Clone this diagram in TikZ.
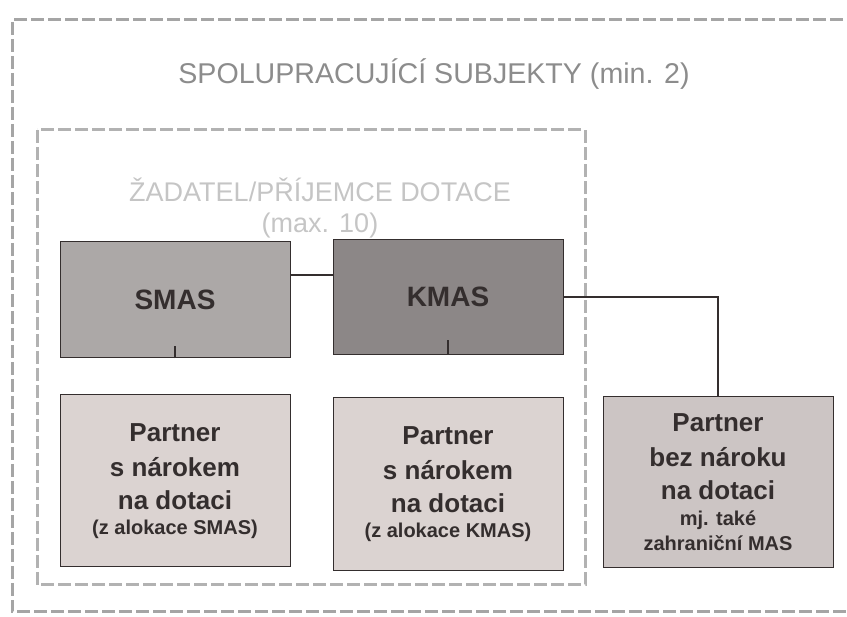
\documentclass[tikz,border=0pt]{standalone}
\usepackage{fontspec}
\setmainfont{Liberation Sans}
\definecolor{frame}{RGB}{165,165,165}
\definecolor{smasgray}{RGB}{172,168,167}
\definecolor{kmasgray}{RGB}{140,135,135}
\definecolor{partnerlight}{RGB}{219,211,209}
\definecolor{partnerdark}{RGB}{204,197,196}
\definecolor{ink}{RGB}{52,46,46}
\newcommand{\sm}[1]{{\fontsize{20}{23}\selectfont #1}}

\begin{document}
\begin{tikzpicture}[x=1pt,y=-1pt,
    dashframe/.style={draw=frame, line width=3pt, dash pattern=on 13pt off 4pt},
    box/.style={draw=ink, line width=1pt, minimum width=230pt, text=ink,
      font=\fontsize{26}{33}\selectfont\bfseries, align=center, inner sep=0pt},
    wire/.style={draw=ink, line width=1.3pt}]
        \useasboundingbox (0,0) rectangle (847,617);
        \draw[dashframe] (860,20) -- (12,20) -- (12,612) -- (860,612);
        \draw[dashframe, draw=frame!85!white] (37,130) rectangle (585,585);

        \node[text=frame!85!black, font=\fontsize{28.6}{32}\selectfont] (title) at (434,74)
        {SPOLUPRACUJÍCÍ SUBJEKTY (min. 2)};
        \node[text=frame!65!white, align=center, font=\fontsize{27}{31}\selectfont] (applicant) at (320,208)
        {ŽADATEL/PŘÍJEMCE DOTACE\\(max. 10)};

        \node[box, fill=smasgray, minimum height=116pt, font=\fontsize{28}{32}\selectfont\bfseries] (s) at (175,300) {SMAS};
        \node[box, fill=kmasgray, minimum height=115pt, font=\fontsize{28}{32}\selectfont\bfseries] (k) at (448,297) {KMAS};

        \node[box, fill=partnerlight, minimum height=172pt] (ps) at (175,481)
        {Partner\\[2pt]s nárokem\\na dotaci\\[-8pt]\sm{(z alokace SMAS)}};
        \node[box, fill=partnerlight, minimum height=173pt] (pk) at (448,484)
        {Partner\\[2pt]s nárokem\\na dotaci\\[-8pt]\sm{(z alokace KMAS)}};
        \node[box, fill=partnerdark, minimum height=171pt] (pb) at (718,482)
        {Partner\\[2pt]bez nároku\\na dotaci\\[-7pt]\sm{mj. také}\\[-8pt]\sm{zahraniční MAS}};

        \coordinate (sstub) at ([yshift=12pt]s.south);
        \coordinate (kstub) at ([yshift=15pt]k.south);
        \draw[wire] (s.east |- 0,275) -- (k.west |- 0,275);
        \draw[wire] (k.east) -| (pb.north);
        \draw[wire] (s.south) -- (sstub);
        \draw[wire] (k.south) -- (kstub);
    \end{tikzpicture}
\end{document}
